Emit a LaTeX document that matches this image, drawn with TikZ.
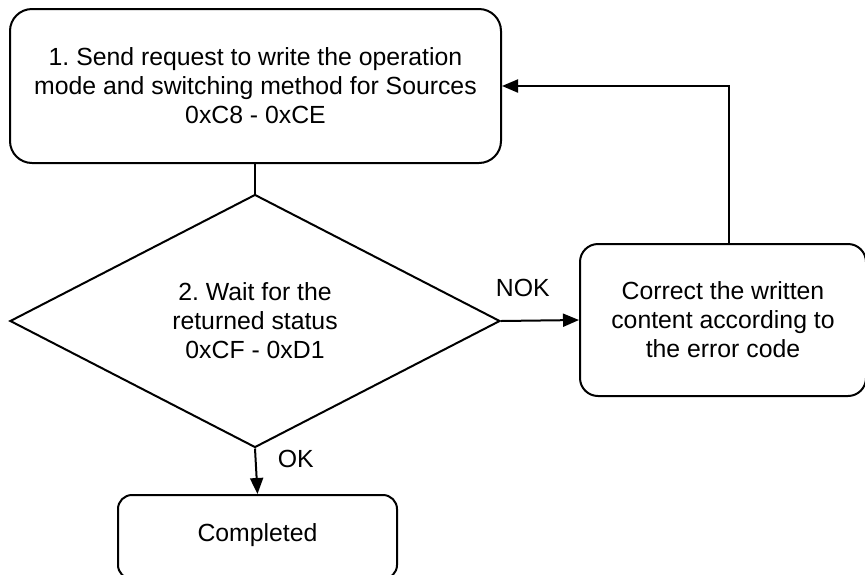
\documentclass[tikz,border=0pt]{standalone}
\usepackage{fontspec}
\setmainfont{Liberation Sans}
\frenchspacing
\usetikzlibrary{shapes.geometric,arrows.meta}
\begin{document}
\begin{tikzpicture}[x=1pt,y=-1pt,
  every node/.style={font=\fontsize{24.8}{29}\selectfont, align=center},
  box/.style={draw, line width=2pt, inner sep=0pt},
  conn/.style={line width=2pt},
  arr/.style={conn, -{Triangle[length=16pt,width=13pt]}}]
\useasboundingbox (0,0) rectangle (865,574);
\fill[white] (0,0) rectangle (865,574);
\begin{scope}
\clip (0,0) rectangle (865,574);
\node[box, rounded corners=22pt, minimum width=491pt, minimum height=154pt] (send) at (255.5,86) {1. Send request to write the operation\\mode and switching method for Sources\\0xC8 - 0xCE};
\node[box, diamond, minimum width=490pt, minimum height=253pt] (wait) at (255,321) {2. Wait for the\\returned status\\0xCF - 0xD1};
\node[box, rounded corners=18pt, minimum width=286pt, minimum height=152pt] (fix) at (723,320) {Correct the written\\content according to\\the error code};
\node[box, rounded corners=14pt, minimum width=279pt, minimum height=84pt, anchor=north] (done) at (257.5,494) {};
\node (donet) at (257.5,535) {Completed};
\draw[conn] (send.south -| wait.north) -- (wait.north);
\draw[arr] (wait.east) -- (fix.west) node[pos=0.28, above=20pt] (nok) {NOK};
\draw[arr] (wait.south) -- (done.north) node[pos=0.22, right=18pt] (ok) {OK};
\coordinate (corner) at (729,86);
\draw[arr] (fix.north -| corner) -- (corner) -- (send.east |- corner);
\end{scope}
\end{tikzpicture}
\end{document}
